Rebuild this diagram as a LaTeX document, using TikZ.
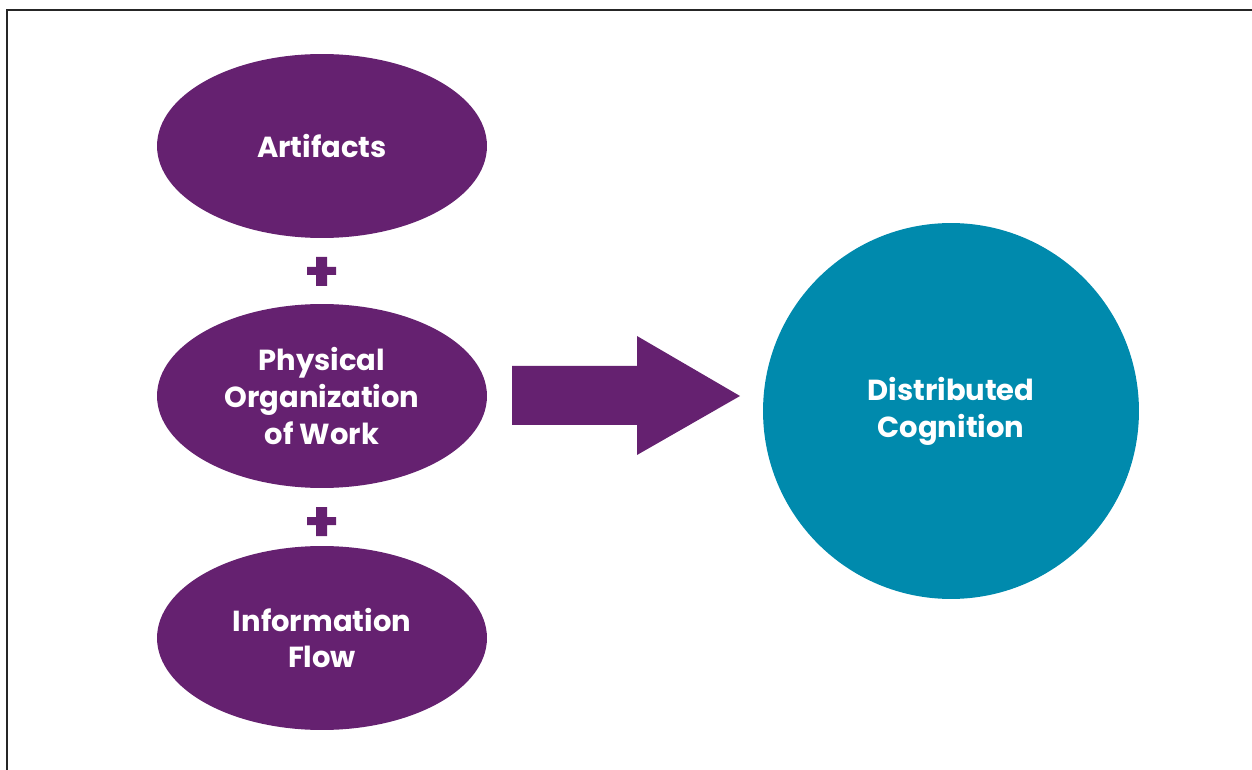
\documentclass[tikz,border=0pt]{standalone}
\usepackage{fontspec}
\setmainfont{Poppins}
\usetikzlibrary{shapes.geometric}
\definecolor{plum}{RGB}{101,33,112}
\definecolor{teal}{RGB}{0,138,173}
\tikzset{
  oval/.style={ellipse,fill=plum,text=white,align=center,minimum width=6.6cm,minimum height=3.68cm,
    font=\fontsize{16.5}{21}\selectfont\bfseries},
}
\begin{document}
\begin{tikzpicture}[x=0.02cm,y=-0.02cm]
\useasboundingbox (0,0) rectangle (1252,770);
\draw [line width=1.2pt,black!85] (7,770)--(7,10)--(1252,10);
\node (a) [oval] at (322,146) {Artifacts};
\node (p) [oval] at (322,396) {Physical\\Organization\\of Work};
\node (i) [oval] at (322,638) {Information\\Flow};
\node (d) [circle,fill=teal,text=white,align=center,minimum size=7.52cm,
  font=\fontsize{16.5}{21}\selectfont\bfseries] at (951,411) {Distributed\\Cognition};

% plus signs
\foreach \y in {271,521}
  \fill [plum] (316,\y-14) rectangle (327,\y+15) (307,\y-4) rectangle (336,\y+4);

% block arrow
\fill [plum] (512,366)--(637,366)--(637,336)--(740,396)--(637,455)--(637,425)--(512,425)--cycle;
\end{tikzpicture}
\end{document}
